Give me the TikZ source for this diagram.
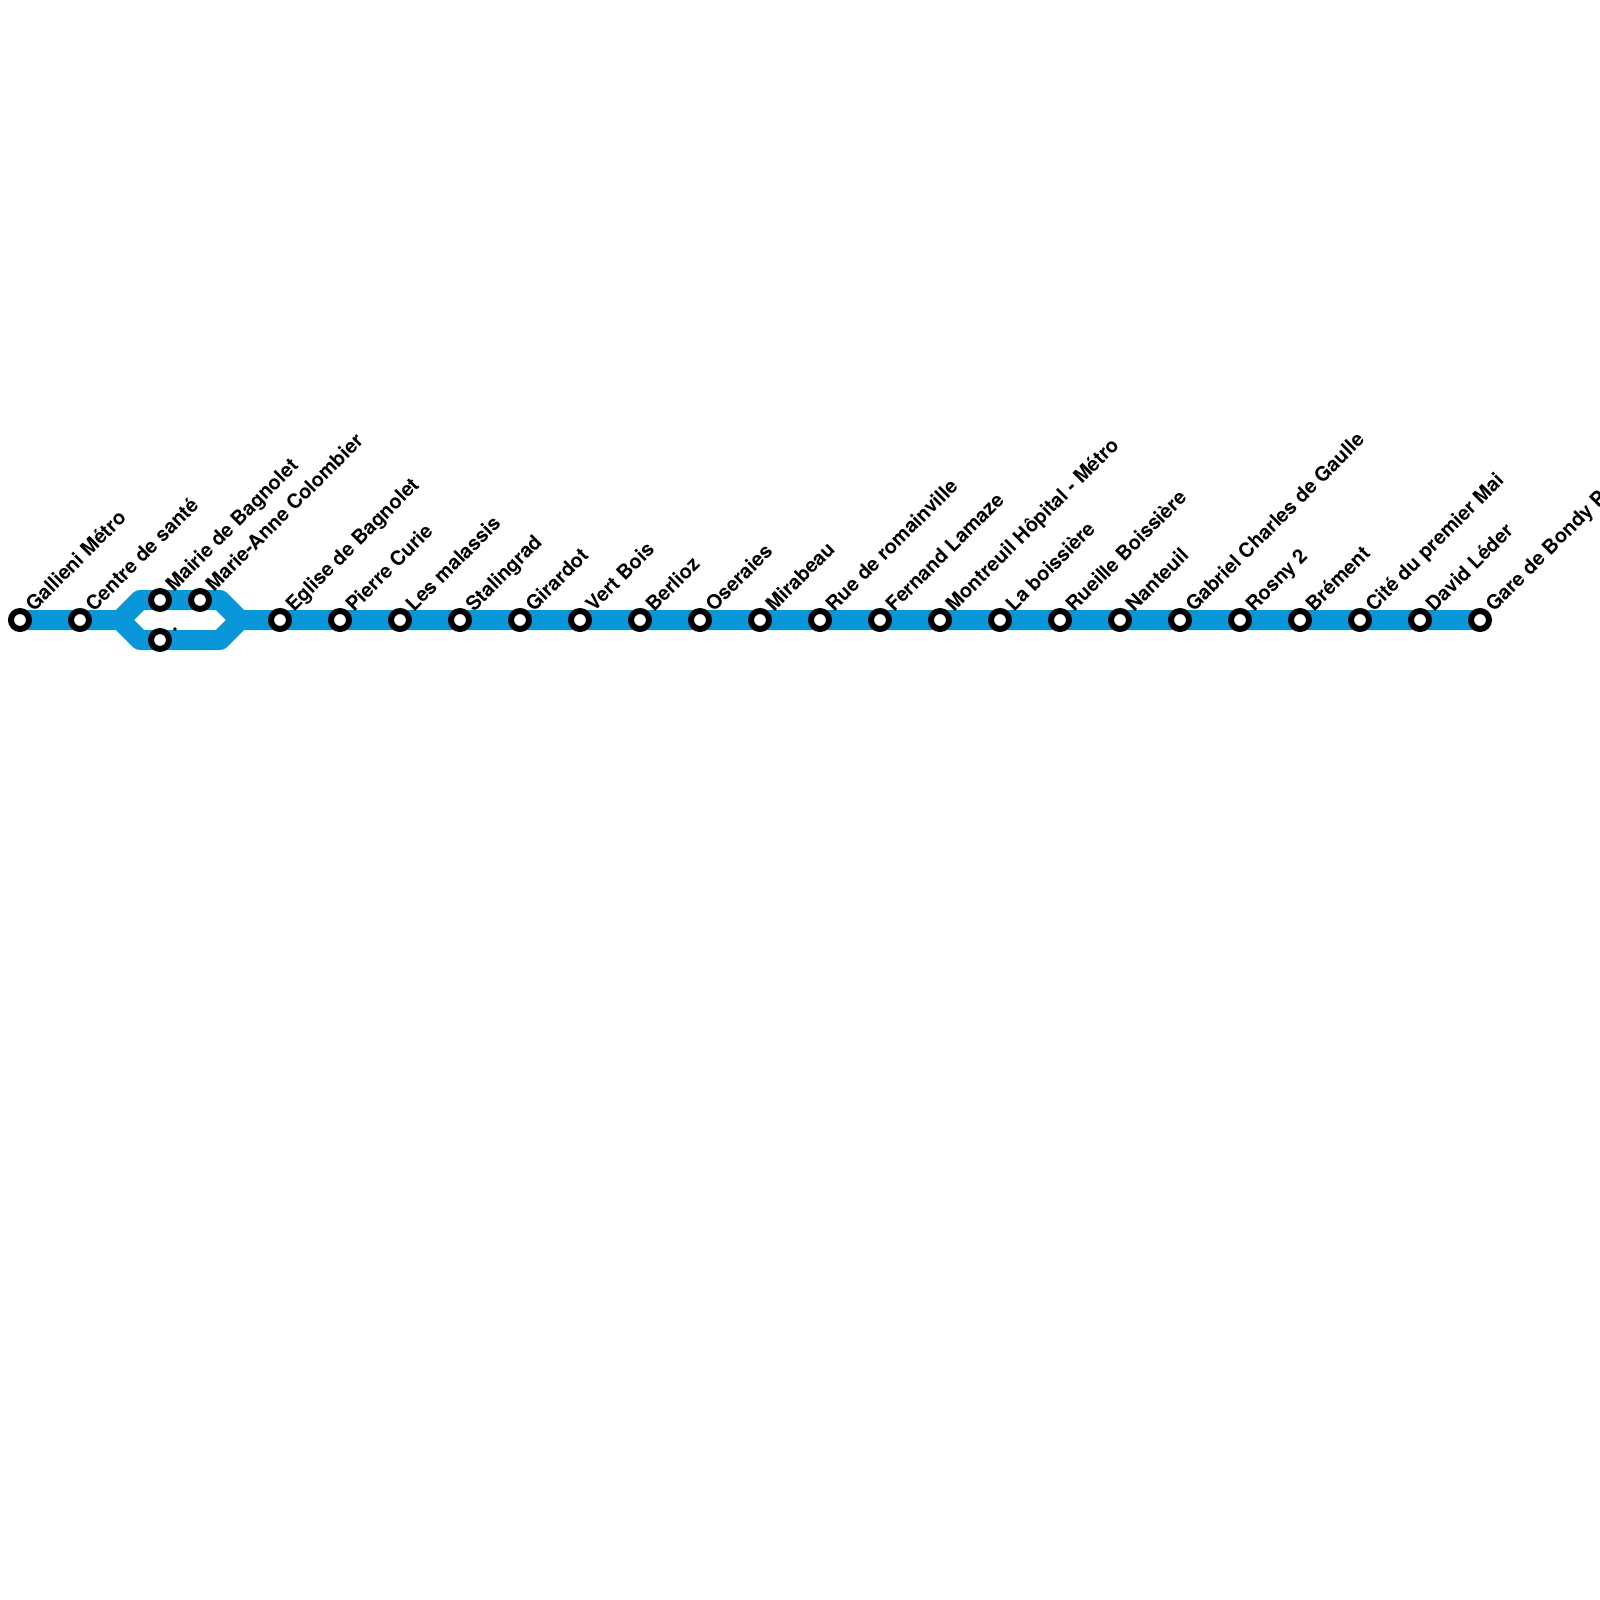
\documentclass[tikz,border=0pt]{standalone}
\usepackage{fontspec}
\setmainfont{TeX Gyre Heros}
\tikzset{
  x=0.1cm,y=-0.1cm,
  metro/.style={draw=metroblue,line width=20mm,line join=round,line cap=butt},
  halt/.style={circle,draw=black,fill=white,line width=6mm,minimum size=18mm,inner sep=0pt,outer sep=0pt},
  lbl/.style={anchor=base west,rotate=45,inner sep=0pt,outer sep=0pt,text=black,font=\fontsize{56.7}{60}\selectfont\bfseries}
}
\definecolor{metroblue}{HTML}{0A97D9}
\newcommand{\halte}[4]{%
  \node[halt] (#1) at (#2,#3) {};
  \node[lbl] (#1l) at (#2+14,#3-7.5) {#4};}
\begin{document}
\begin{tikzpicture}
\useasboundingbox (0,0) rectangle (1600,1600);
\clip (0,0) rectangle (1600,1600);
\coordinate (w) at (120,620);
\coordinate (e) at (240,620);
\coordinate (ul) at (140,600);
\coordinate (ur) at (220,600);
\coordinate (dl) at (140,640);
\coordinate (dr) at (220,640);
\coordinate (start) at (20,620);
\coordinate (end) at (1480,620);
\draw[metro] (start) -- (w) -- (ul) -- (ur) -- (e) -- (end);
\draw[metro] (w) -- (dl) -- (dr) -- (e);
\halte{a}{20}{620}{Gallieni Métro}
\halte{b}{80}{620}{Centre de santé}
\halte{c}{160}{600}{Mairie de Bagnolet}
\halte{d}{200}{600}{Marie-Anne Colombier}
\halte{e1}{160}{640}{.}
\halte{f}{280}{620}{Eglise de Bagnolet}
\halte{g}{340}{620}{Pierre Curie}
\halte{h}{400}{620}{Les malassis}
\halte{i}{460}{620}{Stalingrad}
\halte{j}{520}{620}{Girardot}
\halte{k}{580}{620}{Vert Bois}
\halte{l}{640}{620}{Berlioz}
\halte{m}{700}{620}{Oseraies}
\halte{n}{760}{620}{Mirabeau}
\halte{o}{820}{620}{Rue de romainville}
\halte{p}{880}{620}{Fernand Lamaze}
\halte{q}{940}{620}{Montreuil Hôpital - Métro}
\halte{r}{1000}{620}{La boissière}
\halte{s}{1060}{620}{Rueille Boissière}
\halte{t}{1120}{620}{Nanteuil}
\halte{u}{1180}{620}{Gabriel Charles de Gaulle}
\halte{v}{1240}{620}{Rosny 2}
\halte{x}{1300}{620}{Brément}
\halte{y}{1360}{620}{Cité du premier Mai}
\halte{z}{1420}{620}{David Léder}
\halte{zz}{1480}{620}{Gare de Bondy P}
\end{tikzpicture}
\end{document}
